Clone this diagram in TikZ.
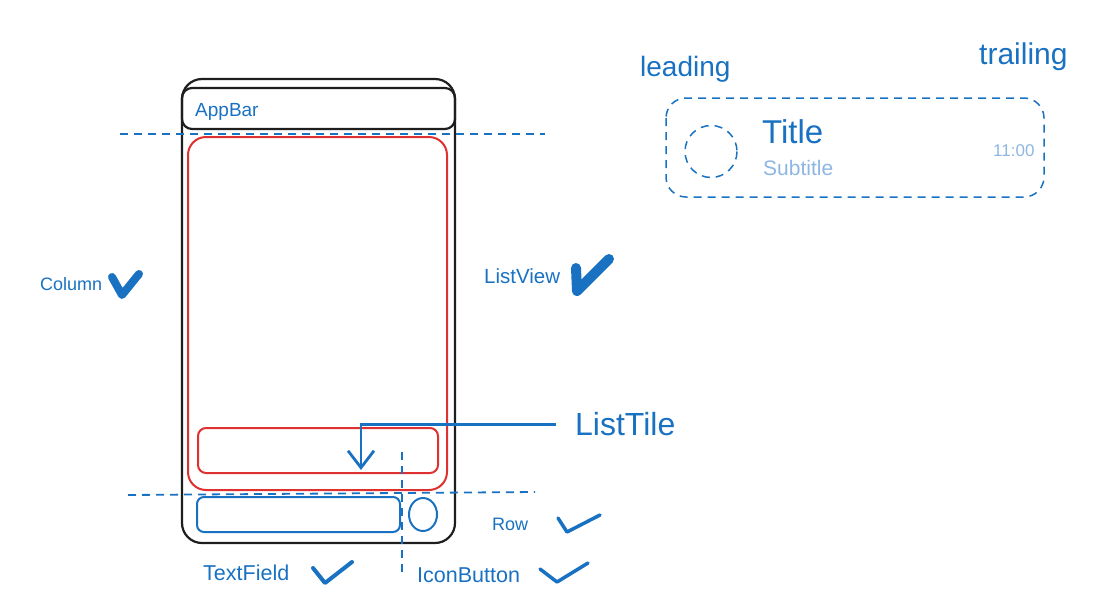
\documentclass[tikz,border=0pt]{standalone}
\usepackage{fontspec}
\setmainfont{Liberation Sans}
\usetikzlibrary{arrows.meta}
\definecolor{xblue}{HTML}{1971C2}
\definecolor{xred}{HTML}{E03131}
\definecolor{xink}{HTML}{1E1E1E}
\definecolor{xpale}{HTML}{8DB6E3}
\tikzset{
  lbl/.style={inner sep=0pt,anchor=base west,text=xblue},
  guide/.style={xblue,line width=1.8pt,dash pattern=on 8pt off 6pt},
  tick/.style={xblue,line cap=round,line join=round},
}
\begin{document}
\begin{tikzpicture}[x=1pt,y=-1pt]
  \useasboundingbox (0,0) rectangle (1101,603);
  % phone
  \draw[xink,line width=2.2pt,rounded corners=20pt](182,79)rectangle(455,543);
  \draw[xink,line width=2.2pt,rounded corners=10pt](182,88)rectangle(455,129);
  \node[lbl,font=\fontsize{19}{19}\selectfont] (appbar) at (195,116) {AppBar};
  \draw[xred,line width=2pt,rounded corners=18pt](188,137)rectangle(447,490);
  \draw[xred,line width=2pt,rounded corners=8pt](198,428)rectangle(438,473);
  \draw[xblue,line width=2pt,rounded corners=7pt](197,497)rectangle(400,532);
  \draw[xblue,line width=2pt](423,514.5)ellipse[x radius=14,y radius=16.5];
  \draw[guide](120,134)--(545,134);
  \draw[guide](128,495)--(535,492);
  \draw[guide](402,452)--(402,572);
  % labels
  \node[lbl,font=\fontsize{18}{18}\selectfont] (column) at (40,290) {Column};
  \draw[tick,line width=8pt](112,277)--(122,295)--(139,274);
  \node[lbl,font=\fontsize{20.5}{20}\selectfont] (listview) at (484,283) {ListView};
  \draw[tick,line width=10pt](576,268)--(577,291)--(609,259);
  \node[lbl,font=\fontsize{32}{32}\selectfont] (tilelbl) at (575,435) {ListTile};
  \coordinate (tiletip) at (361,470);
  \draw[xblue,line width=2.5pt,-{Straight Barb[length=17pt,width=26pt,line width=2.8pt]}]
    ([xshift=-19pt,yshift=-1pt]tilelbl.west) -| (tiletip);
  \node[lbl,font=\fontsize{18}{18}\selectfont] (row) at (492,530) {Row};
  \draw[tick,line width=3.5pt](558,518)--(567,532)--(600,515);
  \node[lbl,font=\fontsize{21.5}{21}\selectfont] (textfield) at (203,580) {TextField};
  \draw[tick,line width=4pt](313,568)--(325,583)--(352,562);
  \node[lbl,font=\fontsize{21.5}{21}\selectfont] (iconbtn) at (417,582) {IconButton};
  \draw[tick,line width=3.5pt](540,569)--(557,582)--(588,563);
  % tile sketch
  \node[lbl,font=\fontsize{28}{28}\selectfont] (leading) at (640,76) {leading};
  \node[lbl,font=\fontsize{30}{30}\selectfont] (trailing) at (979,64) {trailing};
  \draw[xblue,line width=1.5pt,dash pattern=on 8pt off 6pt,rounded corners=20pt](666,98)rectangle(1044,197);
  \draw[xblue,line width=1.5pt,dash pattern=on 8pt off 6pt](711,151.5)circle[radius=26];
  \node[lbl,font=\fontsize{33}{33}\selectfont] (title) at (762,143) {Title};
  \node[lbl,text=xpale,font=\fontsize{21}{21}\selectfont] (subtitle) at (763,175) {Subtitle};
  \node[lbl,text=xpale,font=\fontsize{17}{17}\selectfont] (time) at (993,156) {11:00};
\end{tikzpicture}
\end{document}
